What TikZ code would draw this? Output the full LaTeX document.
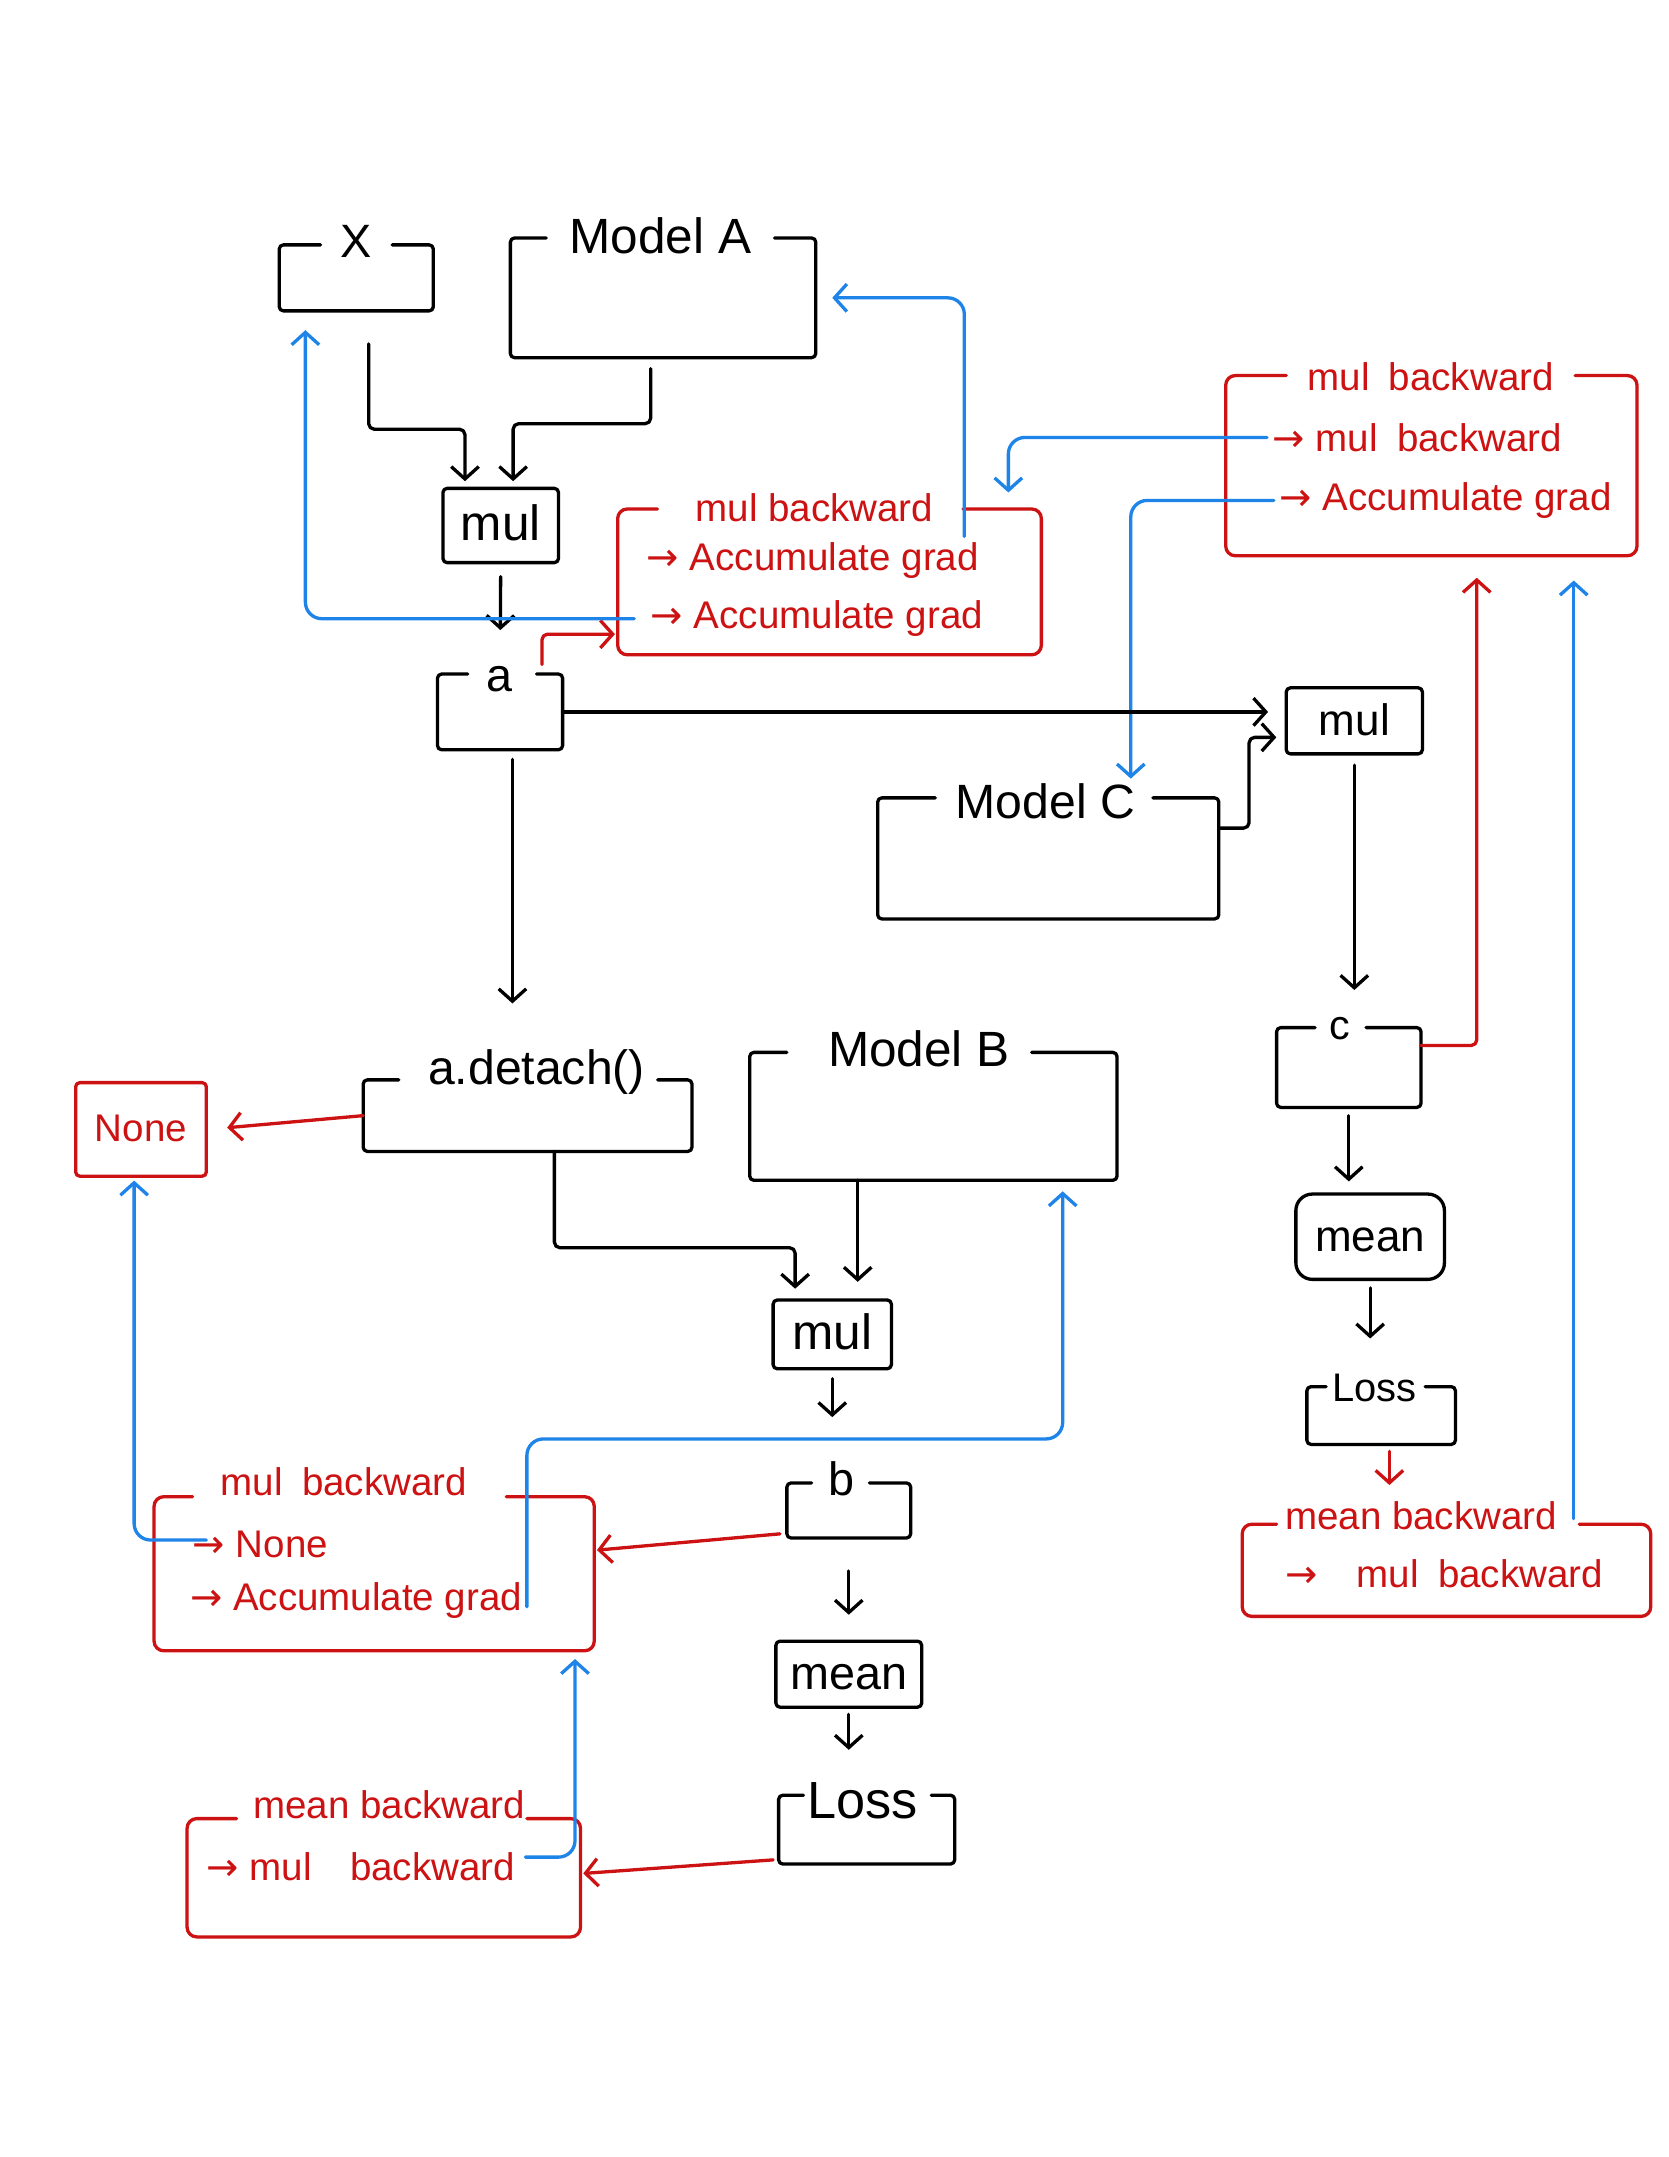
\documentclass[tikz,border=0pt]{standalone}
\usepackage{fontspec}
\setmainfont{Liberation Sans}
\newfontfamily\arrowfont{DejaVu Sans}
\usetikzlibrary{arrows.meta,calc}
\definecolor{inkred}{RGB}{204,18,18}
\definecolor{inkblue}{RGB}{30,132,232}
\newcommand{\fsz}[1]{\fontsize{#1}{#1}\selectfont}
\newcommand{\rarr}{{\arrowfont →}}
% open-topped box: a gap in the top edge holds the title
\newcommand{\gapbox}[4][boxline]{%
  \draw[#1] ($(#2.north west)+(#3,0)$) -- (#2.north west) -- (#2.south west)
    -- (#2.south east) -- (#2.north east) -- ($(#2.north east)+(-#4,0)$);}
\begin{document}
\begin{tikzpicture}[x=1pt,y=-1pt,
  ink/.style={line width=2.4pt,line cap=round,line join=round},
  boxline/.style={ink,rounded corners=3pt},
  redline/.style={ink,draw=inkred,rounded corners=7pt},
  boxarea/.style={inner sep=0pt,outer sep=0pt,draw=none},
  opbox/.style={ink,draw,rounded corners=3pt,inner sep=0pt,text height=22pt,text depth=0pt,font=\fsz{36}},
  lbl/.style={inner sep=0pt,anchor=base,font=\fsz{34}},
  rtxt/.style={inner sep=0pt,anchor=base,text=inkred,font=\fsz{28}},
  rline/.style={rtxt,anchor=base west},
  fwd/.style={ink,-{Straight Barb[length=9pt,width=20pt]},rounded corners=4pt,shorten >=4pt},
  redflow/.style={fwd,draw=inkred},
  blueflow/.style={fwd,draw=inkblue,rounded corners=12pt}]
\fill[white] (0,0) rectangle (1213,1568);
\useasboundingbox (0,0) rectangle (1213,1568);

% ---------- forward graph, first stage ----------
\node[boxarea,minimum width=112pt,minimum height=48pt] (X) at (259,202) {};
\gapbox{X}{30}{30}
\node[lbl] (Xl) at (259,187) {X};

\node[boxarea,minimum width=222pt,minimum height=87pt] (A) at (482,216.5) {};
\gapbox{A}{26}{30}
\node[lbl,font=\fsz{36}] (Al) at (480,184) {Model A};

\node[opbox,minimum width=84pt,minimum height=54pt] (mul1) at (364,382) {mul};

\draw[fwd] ($(X.south)+(9,24)$) -- ++(0,62) -| ($(mul1.north)+(-26,0)$);
\draw[fwd] ($(A.south)+(-9,8)$) -- ++(0,40) -| ($(mul1.north)+(9,0)$);

\node[boxarea,minimum width=91pt,minimum height=55pt] (a) at (363.5,517.5) {};
\gapbox{a}{22}{19}
\node[lbl] (al) at (363,503) {a};
\draw[fwd,shorten <=9pt,shorten >=32pt] (mul1.south) -- (a.north);

% ---------- backward node of the first mul ----------
\node[boxarea,minimum width=308pt,minimum height=106pt] (rb1) at (603,423) {};
\gapbox[redline]{rb1}{29}{57}
\node[rtxt] (rb1t) at (592,379) {mul backward};
\node[rline] (rb1a) at (470,415) {\rarr\ Accumulate grad};
\node[rline] (rb1b) at (473,457) {\rarr\ Accumulate grad};

\draw[redflow,shorten >=2pt] ($(a.north east)+(-15,-7)$) |- ($(rb1.west)+(0,38)$);
\draw[blueflow,shorten >=14pt] ($(rb1b.west)+(-12,0)$) -| ($(X.south west)+(19,0)$);
\coordinate (rb1up) at (701,390);
\draw[blueflow,shorten >=12pt] (rb1up) |- (A.east);

% ---------- backward node of the second mul ----------
\node[boxarea,minimum width=299pt,minimum height=131pt] (rb2) at (1040.5,338.5) {};
\gapbox[redline]{rb2}{44}{45}
\node[rtxt] (rb2t) at (1040,284) {mul\enspace backward};
\node[rline] (rb2a) at (925,328) {\rarr\ mul\enspace backward};
\node[rline] (rb2b) at (930,371) {\rarr\ Accumulate grad};

% ---------- branch through Model C ----------
\node[opbox,minimum width=99pt,minimum height=48pt,font=\fsz{32}] (mul2) at (984.5,524) {mul};
\node[boxarea,minimum width=248pt,minimum height=88pt] (C) at (762,624) {};
\gapbox{C}{42}{48}
\node[lbl,font=\fsz{35}] (Cl) at (760,595) {Model C};

\draw[blueflow,shorten >=12pt] ($(rb2a.west)+(-4,0)$) -| ($(rb1.north east)+(-24,0)$);
\draw[blueflow,shorten >=14pt] ($(rb2b.west)+(-4,0)$) -| ($(C.north)+(60,0)$);

\draw[fwd,shorten >=12pt] (a.east) -- (a.east -| mul2.west);
\draw[fwd,shorten >=6pt] ($(C.east)+(0,-22)$) -- ++(22,0) |- ($(mul2.west)+(0,12)$);

\node[boxarea,minimum width=105pt,minimum height=58pt] (c) at (980.5,776) {};
\gapbox{c}{28}{40}
\node[lbl,font=\fsz{30}] (cl) at (974,756) {c};
\draw[fwd,shorten <=7pt,shorten >=20pt] (mul2.south) -- (mul2.south |- cl.north);
\draw[redflow,shorten >=16pt] ($(c.north east)+(0,13)$) -| ($(rb2.south)+(33,0)$);

\node[opbox,minimum width=108pt,minimum height=62pt,font=\fsz{32},rounded corners=12pt] (meanR) at (996,899) {mean};
\draw[fwd,shorten <=6pt,shorten >=8pt] (c.south) -- (c.south |- meanR.north);

\node[boxarea,minimum width=108pt,minimum height=42pt] (lossR) at (1004,1029) {};
\gapbox{lossR}{14}{22}
\node[lbl,font=\fsz{29}] (lossRl) at (999,1019) {Loss};
\draw[fwd,shorten <=5pt,shorten >=35pt] (meanR.south) -- (meanR.south |- lossR.north);

\node[boxarea,minimum width=297pt,minimum height=67pt] (mbR) at (1051.5,1141.5) {};
\gapbox[redline]{mbR}{25}{52}
\node[rtxt] (mbRt) at (1033,1112) {mean backward};
\node[rtxt] (mbRa) at (1050,1154) {\rarr\quad mul\enspace backward};
\coordinate (lossRo) at ($(lossR.south)+(6,5)$);
\draw[redflow,shorten >=12pt] (lossRo) -- (lossRo |- mbRt.north);
\coordinate (mbRup) at (1144,1104);
\draw[blueflow,shorten >=18pt] (mbRup) -- (mbRup |- rb2.south);

% ---------- branch through a.detach() and Model B ----------
\node[boxarea,minimum width=239pt,minimum height=52pt] (adet) at (383.5,811) {};
\gapbox{adet}{26}{25}
\node[lbl,font=\fsz{35}] (adetl) at (390,788) {a.detach()};
\coordinate (adown) at ($(a.south)+(9,7)$);
\draw[fwd,shorten >=33pt] (adown) -- (adown |- adetl.north);

\node[opbox,draw=inkred,text=inkred,minimum width=95pt,minimum height=68pt,font=\fsz{28},text height=18pt] (none) at (102.5,821) {None};
\draw[redflow,shorten >=14pt] (adet.west) -- (none.east);

\node[boxarea,minimum width=267pt,minimum height=93pt] (B) at (678.5,811.5) {};
\gapbox{B}{27}{62}
\node[lbl,font=\fsz{36}] (Bl) at (668,775) {Model B};

\node[opbox,minimum width=86pt,minimum height=50pt] (mul3) at (605,970) {mul};
\draw[fwd,shorten >=7pt] ($(adet.south)+(19.5,0)$) -- ++(0,70) -| ($(mul3.north)+(-27,0)$);
\coordinate (bdown) at ($(B.south)+(-55,0)$);
\draw[fwd,shorten >=12pt] (bdown) -- (bdown |- mul3.north);

\node[boxarea,minimum width=90pt,minimum height=40pt] (b) at (617,1098) {};
\gapbox{b}{18}{30}
\node[lbl] (bl) at (612,1087) {b};
\draw[fwd,shorten <=6pt,shorten >=32pt] (mul3.south) -- (mul3.south |- bl.north);

\node[boxarea,minimum width=320pt,minimum height=112pt] (rbL) at (272,1144) {};
\gapbox[redline]{rbL}{28}{64}
\node[rtxt] (rbLt) at (250,1087) {mul\enspace backward};
\node[rline] (rbLa) at (140,1132) {\rarr\ None};
\node[rline] (rbLb) at (138,1171) {\rarr\ Accumulate grad};
\draw[redflow,shorten >=2pt] ($(b.west)+(-5,17)$) -- ($(rbL.east)+(0,-17)$);

\coordinate (rbLup) at (383,1168);
\draw[blueflow,shorten >=8pt] (rbLup) -- ++(0,-122) -| ($(B.south)+(94,0)$);
\draw[blueflow,shorten >=2pt] ($(rbLa.west)+(10,-3)$) -| ($(none.south)+(-5,0)$);

\node[opbox,minimum width=106pt,minimum height=48pt,font=\fsz{34}] (meanB) at (617,1217) {mean};
\draw[fwd,shorten <=24pt,shorten >=18pt] (b.south) -- (meanB.north);

\node[boxarea,minimum width=128pt,minimum height=50pt] (lossB) at (630,1330) {};
\gapbox{lossB}{18}{17}
\node[lbl,font=\fsz{38}] (lossBl) at (627,1322) {Loss};
\draw[fwd,shorten <=4pt,shorten >=33pt] (meanB.south) -- (meanB.south |- lossB.north);

\node[boxarea,minimum width=286pt,minimum height=86pt] (mbL) at (279,1365) {};
\gapbox[redline]{mbL}{36}{39}
\node[rtxt] (mbLt) at (283,1322) {mean backward};
\node[rline] (mbLa) at (150,1367) {\rarr\ mul\quad backward};
\draw[redflow,shorten >=2pt] ($(lossB.west)+(-4,22)$) -- ($(mbL.east)+(0,-3)$);
\coordinate (mbLup) at (382,1350);
\draw[blueflow,shorten >=6pt] (mbLup) -| ($(rbL.south)+(146,0)$);
\end{tikzpicture}
\end{document}
